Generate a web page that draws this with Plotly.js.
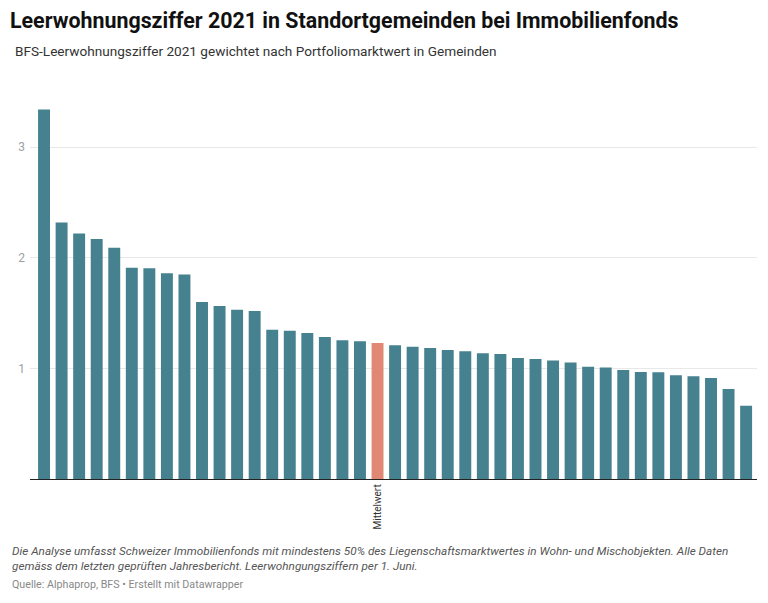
<!DOCTYPE html>
<html>
<head>
<meta charset="utf-8">
<script src="https://cdn.plot.ly/plotly-3.0.1.min.js"></script>
<style>html,body{margin:0;padding:0;background:#fff;}#chart{width:768px;height:603px;}</style>
</head>
<body>
<div id="chart"></div>
<script>
// Data
var categories = ["F1","F2","F3","F4","F5","F6","F7","F8","F9","F10","F11","F12","F13","F14","F15","F16","F17","F18","F19","Mittelwert","F21","F22","F23","F24","F25","F26","F27","F28","F29","F30","F31","F32","F33","F34","F35","F36","F37","F38","F39","F40","F41"];
var values = [3.34,2.32,2.22,2.17,2.09,1.91,1.905,1.86,1.85,1.60,1.565,1.53,1.52,1.35,1.34,1.32,1.285,1.255,1.245,1.23,1.21,1.195,1.185,1.167,1.155,1.137,1.13,1.095,1.086,1.071,1.053,1.014,1.008,0.986,0.968,0.965,0.938,0.929,0.914,0.814,0.663];
var highlight = "Mittelwert";
var yTickVals = [1,2,3];
var yTickText = ["1","2","3"];

var colors = categories.map(function(c){ return c === highlight ? "#e18875" : "#45818e"; });

var trace = {
  type: "bar",
  x: categories,
  y: values,
  marker: {color: colors, line: {width: 0}},
  hoverinfo: "x+y"
};

var layout = {
  width: 768, height: 603,
  margin: {l: 30, r: 11, t: 100, b: 124},
  paper_bgcolor: "#fff", plot_bgcolor: "#fff",
  font: {family: "Roboto, sans-serif", color: "#333"},
  bargap: 0.32,
  showlegend: false,
  title: {
    text: "<b>Leerwohnungsziffer 2021 in Standortgemeinden bei Immobilienfonds</b>",
    x: 10/768, xanchor: "left", xref: "container",
    y: 1 - 21/603, yanchor: "middle", yref: "container",
    font: {family: "Roboto, sans-serif", size: 21.4, color: "#111"}
  },
  xaxis: {
    type: "category",
    range: [-0.8, 40.62],
    tickmode: "array",
    tickvals: [highlight],
    ticktext: [highlight],
    tickangle: -90,
    tickfont: {size: 10, color: "#333"},
    ticks: "",
    showgrid: false,
    zeroline: false,
    showline: true, linecolor: "#222", linewidth: 1.3,
    fixedrange: true
  },
  yaxis: {
    range: [0, 3.427],
    tickmode: "array",
    tickvals: yTickVals,
    ticktext: yTickText,
    tickfont: {size: 12, color: "#a0a0a0"},
    ticks: "",
    ticklabelstandoff: 4,
    showgrid: true, gridcolor: "#e8e8e8", gridwidth: 1,
    zeroline: false, showline: false,
    fixedrange: true
  },
  annotations: [
    {text: "BFS-Leerwohnungsziffer 2021 gewichtet nach Portfoliomarktwert in Gemeinden",
     xref: "paper", yref: "paper", x: 0, xanchor: "left", y: 0, yanchor: "middle",
     showarrow: false, font: {size: 13.6, color: "#333"}},
    {text: "<i>Die Analyse umfasst Schweizer Immobilienfonds mit mindestens 50% des Liegenschaftsmarktwertes in Wohn- und Mischobjekten. Alle Daten</i>",
     xref: "paper", yref: "paper", x: 0, xanchor: "left", y: 0, yanchor: "middle",
     showarrow: false, font: {size: 11.75, color: "#555"}},
    {text: "<i>gemäss dem letzten geprüften Jahresbericht. Leerwohngungsziffern per 1. Juni.</i>",
     xref: "paper", yref: "paper", x: 0, xanchor: "left", y: 0, yanchor: "middle",
     showarrow: false, font: {size: 11.75, color: "#555"}},
    {text: "Quelle: Alphaprop, BFS • Erstellt mit Datawrapper",
     xref: "paper", yref: "paper", x: 0, xanchor: "left", y: 0, yanchor: "middle",
     showarrow: false, font: {size: 10.7, color: "#888"}}
  ]
};

// position annotations in pixel terms relative to the plot area
var plotL = layout.margin.l, plotW = 768 - layout.margin.l - layout.margin.r;
var plotT = layout.margin.t, plotH = 603 - layout.margin.t - layout.margin.b;
function px(x){ return (x - plotL) / plotW; }
function py(y){ return 1 - (y - plotT) / plotH; }
var annPos = [[13, 51], [10, 551], [10, 566], [10, 584]];
layout.annotations.forEach(function(a, i){ a.x = px(annPos[i][0]); a.y = py(annPos[i][1]); });

Plotly.newPlot("chart", [trace], layout, {displayModeBar: false, staticPlot: true});
</script>
</body>
</html>
